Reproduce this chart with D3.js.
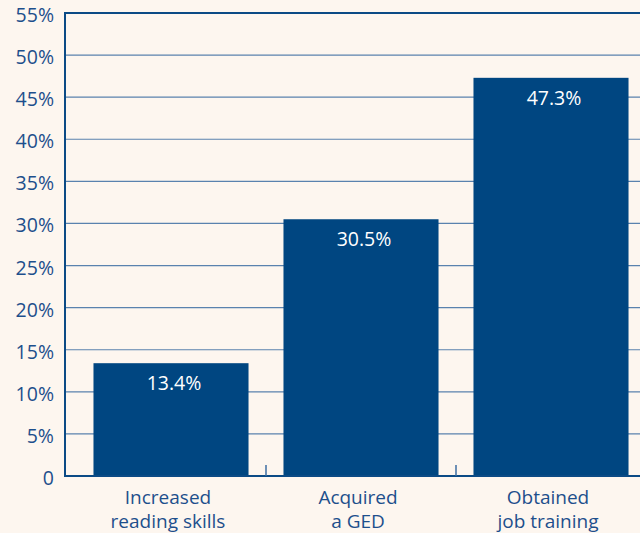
<!DOCTYPE html>
<html><head><meta charset="utf-8">
<script src="https://cdn.jsdelivr.net/npm/d3@7"></script>
<style>body{margin:0;background:#fdf6ef;}svg{display:block;}</style>
</head><body>
<svg id="c" width="640" height="533"></svg>
<script>
const categories = [["Increased","reading skills"],["Acquired","a GED"],["Obtained","job training"]];
const values = [13.4, 30.5, 47.3];
const yTicks = [0,5,10,15,20,25,30,35,40,45,50,55];

(function(){
const svg = d3.select("#c");
const W = 640, H = 533;
svg.append("rect").attr("width",W).attr("height",H).attr("fill","#fdf6ef");
const mLeft = 65, mTop = 13, mBottom = 476;
const y = d3.scaleLinear().domain([0,55]).range([mBottom, mTop]);
const x = d3.scaleBand().domain(d3.range(categories.length)).range([76,646]).paddingInner(0.184).paddingOuter(0.092);
const font = "'Open Sans', 'Noto Sans', sans-serif";
const txt = "#1d4f8c";
const fs = 19.5;

// gridlines
svg.append("g").selectAll("line").data(yTicks.filter(d=>d>0 && d<55)).join("line")
  .attr("x1",mLeft).attr("x2",W).attr("y1",d=>y(d)).attr("y2",d=>y(d))
  .attr("stroke","#5a82ae").attr("stroke-width",1.2);
svg.append("line").attr("x1",mLeft).attr("x2",W).attr("y1",y(55)).attr("y2",y(55)).attr("stroke","#0b4a85").attr("stroke-width",2);

// bars
svg.append("g").selectAll("rect").data(values).join("rect")
  .attr("x",(d,i)=>x(i)).attr("width",x.bandwidth())
  .attr("y",d=>y(d)).attr("height",d=>mBottom-y(d)).attr("fill","#004681");

// value labels
svg.append("g").selectAll("text").data(values).join("text")
  .attr("x",(d,i)=>x(i)+x.bandwidth()/2+3).attr("y",d=>y(d)+27)
  .attr("text-anchor","middle").attr("fill","#ffffff").attr("font-family",font).attr("font-size",fs)
  .text(d=>d.toFixed(1)+"%");

// axes lines
svg.append("line").attr("x1",mLeft).attr("x2",mLeft).attr("y1",y(55)-1).attr("y2",mBottom+1).attr("stroke","#0b4a85").attr("stroke-width",2);
svg.append("line").attr("x1",mLeft).attr("x2",W).attr("y1",mBottom).attr("y2",mBottom).attr("stroke","#0b4a85").attr("stroke-width",2);
const step = x.step();
svg.append("g").selectAll("line").data([1,2]).join("line")
  .attr("x1",i=>x(i)-(step-x.bandwidth())/2).attr("x2",i=>x(i)-(step-x.bandwidth())/2)
  .attr("y1",mBottom-11).attr("y2",mBottom).attr("stroke","#3d6ea3").attr("stroke-width",1.5);

// y tick labels
svg.append("g").selectAll("text").data(yTicks).join("text")
  .attr("x",54).attr("y",d=>y(d)+9).attr("text-anchor","end")
  .attr("fill",txt).attr("font-family",font).attr("font-size",fs)
  .text(d=>d===0?"0":d+"%");

// category labels (two separate lines)
const lines = [];
categories.forEach((c,i)=>c.forEach((t,j)=>lines.push({i,j,t})));
svg.append("g").selectAll("text").data(lines).join("text")
  .attr("x",d=>x(d.i)+x.bandwidth()/2 - 3).attr("y",d=>504 + d.j*24).attr("text-anchor","middle")
  .attr("fill",txt).attr("font-family",font).attr("font-size",19)
  .text(d=>d.t);
})();
</script>
</body></html>
